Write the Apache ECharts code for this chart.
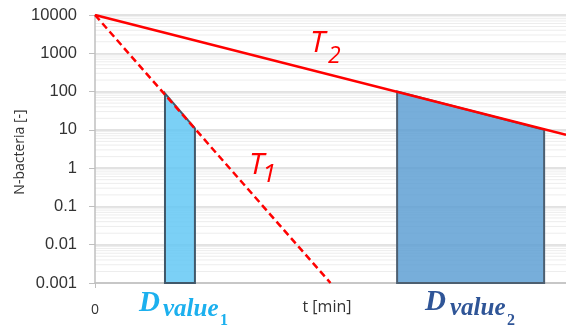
<!DOCTYPE html>
<html>
<head>
<meta charset="utf-8">
<script src="https://cdn.jsdelivr.net/npm/echarts@6/dist/echarts.min.js"></script>
<style>html,body{margin:0;padding:0;background:#fff}#c{width:566px;height:331px}</style>
</head>
<body>
<div id="c"></div>
<script>
// Data (x in time units, y = number of bacteria)
const yTicks = [0.001, 0.01, 0.1, 1, 10, 100, 1000, 10000];
const t1Line = [[0, 10000], [7, 0.001]];
const t2Line = [[0, 10000], [14, 7.4]];
const dValue1 = [[2.08, 90], [2.97, 11], [2.97, 0.001], [2.08, 0.001]];
const dValue2 = [[8.98, 100], [13.35, 10], [13.35, 0.001], [8.98, 0.001]];
const minorValues = [];
for (let e = -3; e < 4; e++) { for (let m = 2; m <= 9; m++) minorValues.push(m * Math.pow(10, e)); }

const chart = echarts.init(document.getElementById('c'), null, {renderer: 'canvas'});

function polySeries(data, fill, border) {
  return {
    type: 'custom',
    coordinateSystem: 'cartesian2d',
    silent: true,
    z: 2,
    data: [0],
    renderItem: function (params, api) {
      const pts = data.map(p => api.coord(p));
      return {
        type: 'polygon',
        shape: {points: pts},
        style: {fill: fill, stroke: border, lineWidth: 2}
      };
    }
  };
}

function txt(x, y, s, font, size, color, extra) {
  return Object.assign({type: 'text', x: x, y: y, z: 100, silent: true, style: Object.assign({
    text: s, fontFamily: font, fontSize: size, fill: color, verticalAlign: 'middle', align: 'left'
  }, extra || {})});
}

const serifBI = {fontStyle: 'italic', fontWeight: 'bold'};
const sansI = {fontStyle: 'italic'};

chart.setOption({
  animation: false,
  grid: {left: 95, right: 0, top: 15, bottom: 48, outerBoundsMode: 'none', containLabel: false},
  xAxis: {
    type: 'value', min: 0, max: 14, interval: 14,
    axisLine: {show: true, lineStyle: {color: '#bfbfbf', width: 1.5}},
    axisTick: {show: true, length: 5, lineStyle: {color: '#bfbfbf'}},
    splitLine: {show: false},
    axisLabel: {margin: 20, fontFamily: 'Open Sans', fontSize: 14, color: '#333',
      formatter: v => v === 0 ? '0' : ''}
  },
  yAxis: {
    type: 'log', logBase: 10, min: 0.001, max: 10000,
    axisLine: {show: true, lineStyle: {color: '#bfbfbf', width: 1.5}},
    axisTick: {show: true, length: 6, lineStyle: {color: '#bfbfbf'}},
    splitLine: {show: true, lineStyle: {color: '#d9d9d9', width: 1.5}},
    axisLabel: {margin: 18, fontFamily: 'Liberation Sans', fontSize: 16.5, color: '#333',
      formatter: v => {
        const found = yTicks.find(t => Math.abs(Math.log10(t) - Math.log10(v)) < 1e-6);
        return found === undefined ? '' : String(found);
      }}
  },
  series: [
    {
      type: 'custom', coordinateSystem: 'cartesian2d', silent: true, z: 0,
      data: minorValues.map(v => [v]),
      renderItem: function (params, api) {
        const v = api.value(0);
        const a = api.coord([0, v]);
        const b = api.coord([14, v]);
        return {type: 'line', shape: {x1: a[0], y1: a[1], x2: b[0], y2: b[1]},
          style: {stroke: '#ededed', lineWidth: 1}};
      },
      encode: {y: 0}
    },
    polySeries(dValue1, 'rgba(100,200,245,0.85)', '#41586a'),
    polySeries(dValue2, 'rgba(95,160,212,0.85)', '#4d5f70'),
    {
      type: 'line', data: t1Line, symbol: 'none', silent: true, z: 3,
      lineStyle: {color: '#ff0000', width: 2.5, type: [7, 4]}
    },
    {
      type: 'line', data: t2Line, symbol: 'none', silent: true, z: 3,
      lineStyle: {color: '#ff0000', width: 2.5}
    }
  ],
  graphic: [
    // axis names
    txt(327, 307, 't [min]', 'Open Sans', 16, '#333', {align: 'center'}),
    Object.assign(txt(20, 152, 'N-bacteria [-]', 'Open Sans', 14, '#333', {align: 'center'}), {rotation: Math.PI / 2}),
    // T2
    txt(310, 43, 'T', 'Open Sans', 30, '#ff0000', sansI),
    txt(328, 56, '2', 'Open Sans', 23, '#ff0000', sansI),
    // T1
    txt(249, 165, 'T', 'Open Sans', 30, '#ff0000', sansI),
    txt(262, 175, '1', 'Open Sans', 26, '#ff0000', sansI),
    // D value 1
    txt(139, 304, 'D', 'Liberation Serif', 29, '#1cb0ee', serifBI),
    txt(163, 310, 'value', 'Liberation Serif', 25, '#1cb0ee', serifBI),
    txt(220, 321, '1', 'Liberation Serif', 16, '#1cb0ee', {fontWeight: 'bold'}),
    // D value 2
    txt(425, 303, 'D', 'Liberation Serif', 29, '#2f5597', serifBI),
    txt(450, 309, 'value', 'Liberation Serif', 25, '#2f5597', serifBI),
    txt(507, 321, '2', 'Liberation Serif', 16, '#2f5597', {fontWeight: 'bold'})
  ]
});
</script>
</body>
</html>
